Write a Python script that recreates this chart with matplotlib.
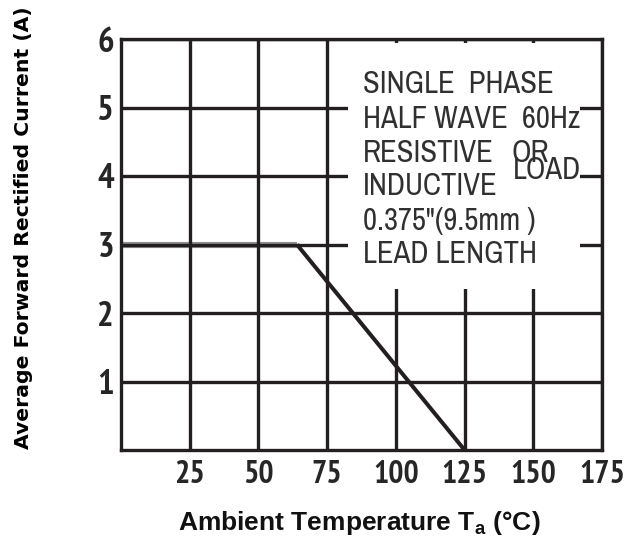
import matplotlib
matplotlib.use("Agg")
import matplotlib.pyplot as plt
from matplotlib import font_manager
from matplotlib.patches import Rectangle

# ---- data ----
temps = [0, 64, 125]          # ambient temperature (°C)
current = [3, 3, 0]           # average forward rectified current (A)
x_ticks = [25, 50, 75, 100, 125, 150, 175]
x_ticklabels = ["25", "50", "75", "100", "125", "150", "175"]
y_ticks = [1, 2, 3, 4, 5, 6]
y_ticklabels = ["1", "2", "3", "4", "5", "6"]
note_lines = ["SINGLE  PHASE", "HALF WAVE  60Hz", "RESISTIVE", "INDUCTIVE",
              "0.375\"(9.5mm )", "LEAD LENGTH"]
note_y = [5.34, 4.83, 4.33, 3.86, 3.35, 2.86]

names = {f.name for f in font_manager.fontManager.ttflist}
def pick(cands):
    for c in cands:
        if c in names:
            return c
    return "DejaVu Sans"
tick_font = pick(["PT Sans Narrow", "Fira Sans Condensed", "Roboto Condensed"])
note_font = pick(["Archivo Narrow", "PT Sans Narrow", "Fira Sans Condensed"])
label_font = pick(["Liberation Sans", "DejaVu Sans"])

plt.rcParams['mathtext.fontset'] = 'custom'
plt.rcParams['mathtext.rm'] = f'{label_font}:bold'

INK = "#231f20"
fig = plt.figure(figsize=(6.36, 5.37), dpi=100)
ax = fig.add_axes([121/636, 1-450/537, 481/636, 411/537])
ax.set_xlim(0, 175)
ax.set_ylim(0, 6)

ax.set_xticks(x_ticks)
ax.set_xticklabels(x_ticklabels)
ax.set_yticks(y_ticks)
ax.set_yticklabels(y_ticklabels)
ax.tick_params(length=0, colors=INK)
for lab in ax.get_xticklabels():
    lab.set_fontfamily(tick_font)
    lab.set_fontweight("bold")
    lab.set_fontsize(23)
    lab.set_color("#262626")
for lab in ax.get_yticklabels():
    lab.set_fontfamily(tick_font)
    lab.set_fontweight("bold")
    lab.set_fontsize(25)
    lab.set_color("#262626")
ax.tick_params(axis='x', pad=7)
ax.tick_params(axis='y', pad=5)

ax.set_axisbelow(True)
ax.grid(True, color=INK, linewidth=2.4)
for s in ax.spines.values():
    s.set_color(INK)
    s.set_linewidth(2.4)

# white box behind the note
ax.add_patch(Rectangle((82.6, 2.35), 167 - 82.6, 5.94 - 2.35, facecolor="white",
                       edgecolor="none", zorder=1))

# derating curve
ax.plot(temps[:2], current[:2], color="#8f8f8f", linewidth=4.4, zorder=0.4,
        solid_capstyle="butt")
ax.plot(temps[1:], current[1:], color=INK, linewidth=2.9, zorder=2,
        solid_capstyle="butt")

# note text
for t, yy in zip(note_lines, note_y):
    ax.text(88.1, yy, t, fontsize=22, family=note_font, color="#303030",
            va="center", ha="left", zorder=3)
ax.text(142.2, 4.33, "OR", fontsize=22, family=note_font, color="#303030",
        va="center", ha="left", zorder=3)
ax.text(142.6, 4.09, "LOAD", fontsize=22, family=note_font, color="#303030",
        va="center", ha="left", zorder=3)

fig.text(24/636, 1-228/537, "Average Forward Rectified Current (A)", rotation=90,
         ha="center", va="center", fontsize=14.7, fontweight="bold",
         family="DejaVu Sans", color="black")
fig.text(178/636, 1-530/537, r"Ambient Temperature T$_{\mathrm{a}}$ (°C)",
         ha="left", va="baseline", fontsize=19, fontweight="bold",
         family=label_font, color="#111111")

fig.savefig("out.png", dpi=100)
